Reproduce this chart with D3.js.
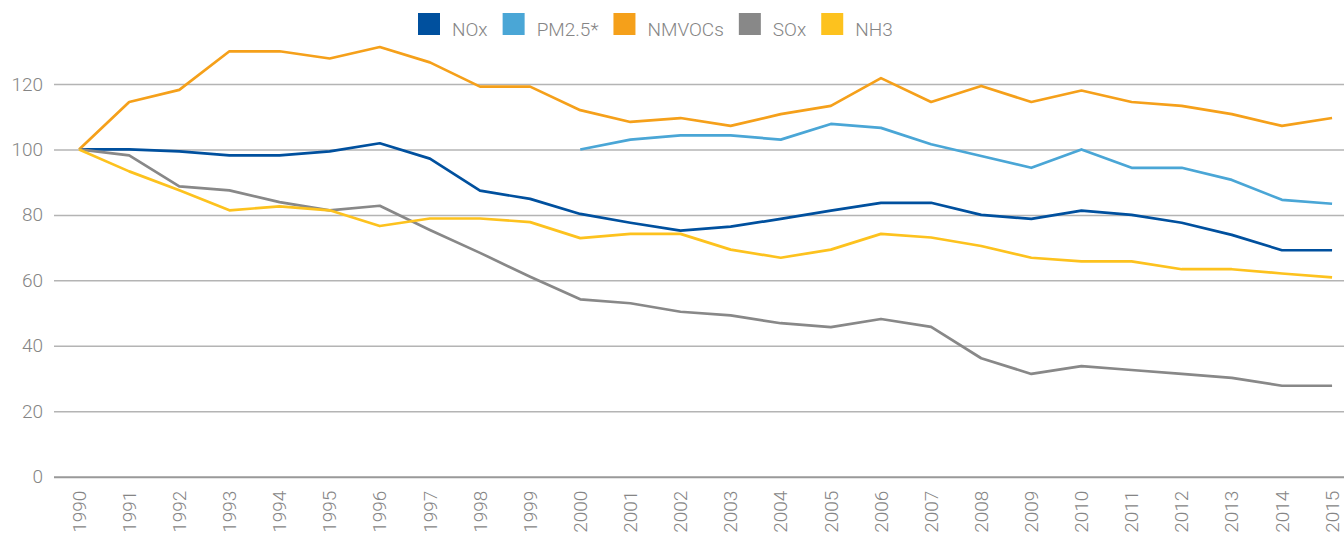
<!DOCTYPE html>
<html>
<head>
<meta charset="utf-8">
<script src="https://cdn.jsdelivr.net/npm/d3@7"></script>
<style>
  body { margin: 0; background: #fff; }
  svg { display: block; font-family: Roboto, "Open Sans", sans-serif; }
</style>
</head>
<body>
<div id="chart"></div>
<script>
// data (index, 1990 = 100)
var years = d3.range(1990, 2016);
var seriesNames = ["NOx", "PM2.5*", "NMVOCs", "SOx", "NH3"];
var nox = [100, 100, 99.4, 98.2, 98.2, 99.4, 101.9, 97.2, 87.4, 84.9, 80.3, 77.6, 75.2, 76.4, 78.8, 81.3, 83.7, 83.7, 80, 78.8, 81.3, 80, 77.6, 73.9, 69.2, 69.2];
var pm25 = [null, null, null, null, null, null, null, null, null, null, 100, 103, 104.3, 104.3, 103, 107.8, 106.6, 101.6, 98, 94.4, 100, 94.4, 94.4, 90.7, 84.6, 83.4];
var nmvoc = [100, 114.5, 118.2, 130, 130, 127.8, 131.3, 126.6, 119.2, 119.2, 112, 108.4, 109.6, 107.2, 110.8, 113.3, 121.8, 114.5, 119.4, 114.5, 118, 114.5, 113.3, 110.8, 107.2, 109.6];
var sox = [100, 98.2, 88.7, 87.5, 83.9, 81.4, 82.8, 75.4, 68.4, 61.1, 54.2, 53, 50.4, 49.3, 46.9, 45.7, 48.2, 45.8, 36.2, 31.4, 33.8, 32.6, 31.4, 30.2, 27.8, 27.8];
var nh3 = [100, 93.3, 87.5, 81.4, 82.6, 81.4, 76.6, 78.9, 78.9, 77.8, 72.9, 74.2, 74.2, 69.4, 66.9, 69.4, 74.2, 73.1, 70.5, 66.9, 65.8, 65.8, 63.4, 63.4, 62.1, 60.9];
var yTicks = [0, 20, 40, 60, 80, 100, 120];

var colors = ["#00509e", "#4aa6d6", "#f5a01a", "#888888", "#fdc21e"];
var allSeries = [nox, pm25, nmvoc, sox, nh3];

var W = 1344, H = 536;
var margin = {top: 84, left: 54, bottom: 59};

var svg = d3.select("#chart")
  .append("svg")
    .attr("width", W)
    .attr("height", H);

var x = d3.scaleBand()
  .domain(years)
  .range([margin.left, margin.left + 26 * 50.12]);

var y = d3.scaleLinear()
  .domain([0, 120])
  .range([H - margin.bottom - 0.3, margin.top]);

// gridlines + y labels
var yAxis = svg.append("g")
  .attr("transform", "translate(" + margin.left + ",0)")
  .call(d3.axisLeft(y).tickValues(yTicks).tickSize(-(x.range()[1] - margin.left)).tickPadding(11));
yAxis.select(".domain").remove();
yAxis.selectAll(".tick line")
  .attr("stroke", function(d) { return d === 0 ? "#999" : "#b4b4b4"; })
  .attr("stroke-width", function(d) { return d === 0 ? 2 : 1.5; });
yAxis.selectAll(".tick text")
  .attr("fill", "#858585")
  .style("font-size", "19px")
  .style("font-family", "Roboto, sans-serif")
  .style("font-weight", 300);

// x labels
var xAxis = svg.append("g")
  .attr("transform", "translate(0," + y(0) + ")")
  .call(d3.axisBottom(x).tickSize(0));
xAxis.select(".domain").remove();
xAxis.selectAll(".tick text")
  .attr("transform", "translate(0,14)rotate(-90)")
  .attr("x", 0)
  .attr("y", 0)
  .attr("dy", "0.35em")
  .style("text-anchor", "end")
  .attr("fill", "#858585")
  .style("font-size", "19px")
  .style("font-family", "Roboto, sans-serif")
  .style("font-weight", 300);

// lines
var line = d3.line()
  .defined(function(d) { return d != null; })
  .x(function(d, i) { return x(years[i]) + x.bandwidth() / 2; })
  .y(function(d) { return y(d); });

svg.append("g")
  .selectAll("path")
  .data(allSeries)
  .enter()
  .append("path")
    .attr("d", line)
    .attr("fill", "none")
    .attr("stroke", function(d, i) { return colors[i]; })
    .attr("stroke-width", 2.7)
    .attr("stroke-linejoin", "round");

// legend
var legend = svg.append("g").attr("transform", "translate(418,13)");
var lx = 0;
seriesNames.forEach(function(name, i) {
  var item = legend.append("g").attr("transform", "translate(" + lx + ",0)");
  item.append("rect")
    .attr("width", 22)
    .attr("height", 22)
    .attr("fill", colors[i]);
  var t = item.append("text")
    .attr("x", 34)
    .attr("y", 22.5)
    .attr("fill", "#858585")
    .style("font-size", "19px")
    .style("font-weight", 300)
    .text(name);
  lx += 34 + t.node().getComputedTextLength() + 15;
});
</script>
</body>
</html>
